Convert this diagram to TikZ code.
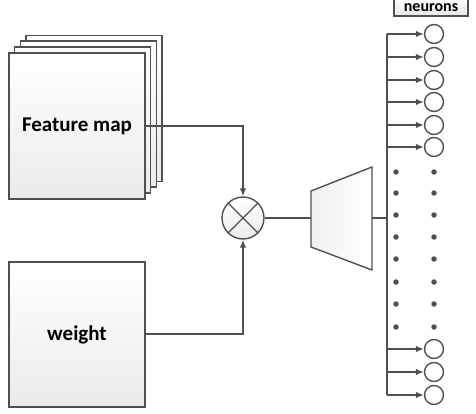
\documentclass[tikz,border=0pt]{standalone}
\usepackage{fontspec}
\setmainfont{Carlito}
\usetikzlibrary{arrows.meta}

\definecolor{lineGray}{RGB}{80,80,80}

\begin{document}
\begin{tikzpicture}
[x=1pt,y=-1pt,
  lineDecorate/.style={draw=lineGray,line width=1.4pt},%
  arrowDecorate/.style={lineDecorate,-{Latex[length=8pt,width=6.5pt]}},%
  mapDecorate/.style={shape=rectangle,draw=lineGray,line width=1.4pt,top color=white,bottom color=black!8,
    minimum width=136pt,minimum height=146pt,inner sep=0pt,font=\bfseries\fontsize{21}{24}\selectfont},%
  neuronDecorate/.style={shape=circle,draw=lineGray,line width=1.4pt,fill=white,minimum size=19pt,inner sep=0pt},%
  dotDecorate/.style={shape=circle,fill=lineGray,minimum size=5.5pt,inner sep=0pt}]
\useasboundingbox (0,0) rectangle (476,414);
%% feature map stack
\foreach \nodename/\x/\y in {fm3/94/108.5, fm2/88.3/114, fm1/82.6/120}
{
  \node (\nodename) at (\x,\y) [mapDecorate] {};
}
\node (fmap) at (77,126) [mapDecorate] {Feature map};
\node (weight) at (77,334.5) [mapDecorate,minimum height=145pt] {weight};
%% multiplier
\node (mult) at (243,218) [shape=circle,draw=lineGray,line width=1.4pt,top color=white,bottom color=black!8,minimum size=42pt,inner sep=0pt] {};
\draw[lineDecorate] (mult.north west) -- (mult.south east) (mult.north east) -- (mult.south west);
%% fully connected block
\draw[lineDecorate,left color=black!6,right color=white] (311,191) -- (372,167) -- (372,270) -- (311,247) -- cycle;
\coordinate (fcin) at (311,218);
\coordinate (fcout) at (372,218);
\coordinate (bus) at (387,218);
\coordinate (bustop) at (387,34);
\coordinate (busbottom) at (387,395);
%% edges
\draw[arrowDecorate] (fmap.east |- 0,126) -| (mult.north);
\draw[arrowDecorate] (weight.east |- 0,334) -| (mult.south);
\draw[lineDecorate] (mult.east) -- (fcin);
\draw[draw=lineGray,line width=2.8pt] (fcout) -- (bus);
\draw[lineDecorate] (bustop) -- (busbottom);
%% neurons
\foreach \nodename/\y in {n1/34, n2/57, n3/80, n4/102, n5/125, n6/147, n7/349, n8/372, n9/395}
{
  \node (\nodename) at (434,\y) [neuronDecorate] {};
  \coordinate (b\nodename) at (387,\y);
  \draw[arrowDecorate] (b\nodename) -- (\nodename.west);
}
\foreach \y [count=\i] in {172, 193, 215, 237, 259, 282, 304, 327}
{
  \node (dl\i) at (396,\y) [dotDecorate] {};
  \node (dr\i) at (434,\y) [dotDecorate] {};
}
%% label
\node (label) at (431,7.5) [shape=rectangle,draw=lineGray,line width=1.2pt,top color=white,bottom color=black!10,
  minimum width=74pt,minimum height=17pt,inner sep=0pt,font=\bfseries\fontsize{16}{18}\selectfont] {neurons};
\end{tikzpicture}
\end{document}
